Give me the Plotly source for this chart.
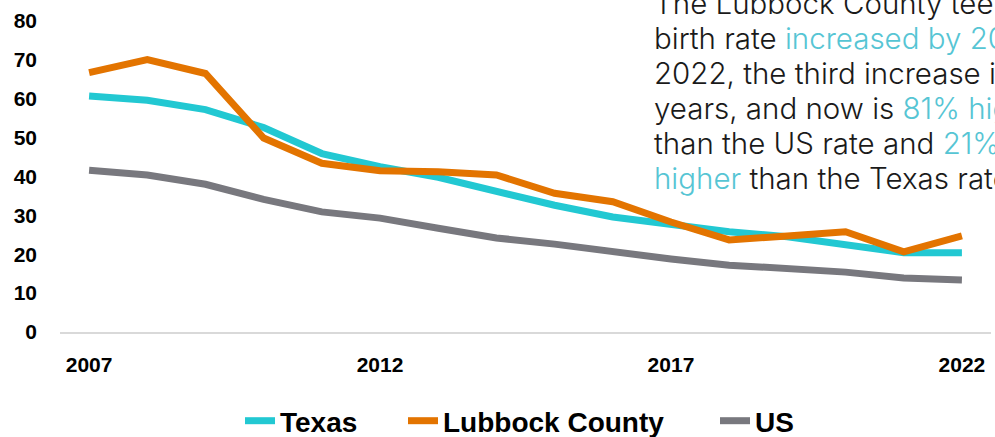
import plotly.graph_objects as go

years = list(range(2007, 2023))
texas = [60.7, 59.6, 57.2, 52.6, 45.9, 42.5, 39.8, 36.1, 32.6, 29.6, 27.5, 25.8, 24.5, 22.4, 20.4, 20.4]
lubbock = [66.7, 70.1, 66.5, 49.9, 43.4, 41.5, 41.2, 40.4, 35.7, 33.5, 28.3, 23.7, 24.7, 25.8, 20.6, 24.7]
us = [41.6, 40.4, 38.0, 34.1, 30.9, 29.3, 26.7, 24.2, 22.6, 20.6, 18.8, 17.2, 16.4, 15.4, 13.9, 13.4]
x_ticks = [2007, 2012, 2017, 2022]
y_ticks = [0, 10, 20, 30, 40, 50, 60, 70, 80]

TEAL = "#22C8D2"
ORANGE = "#E37400"
GRAY = "#78787E"
HIL = "#56C5D4"

fig = go.Figure()
fig.add_trace(go.Scatter(x=years, y=texas, name="Texas", mode="lines",
                         line=dict(color=TEAL, width=7), legend="legend"))
fig.add_trace(go.Scatter(x=years, y=lubbock, name="Lubbock County", mode="lines",
                         line=dict(color=ORANGE, width=7), legend="legend2"))
fig.add_trace(go.Scatter(x=years, y=us, name="US", mode="lines",
                         line=dict(color=GRAY, width=7), legend="legend3"))

note_lines = [
    "The Lubbock County teen",
    f"birth rate <span style='color:{HIL}'>increased by 20% in</span>",
    "2022, the third increase in",
    f"years, and now is <span style='color:{HIL}'>81% higher</span>",
    f"than the US rate and <span style='color:{HIL}'>21%</span>",
    f"<span style='color:{HIL}'>higher</span> than the Texas rate.",
]

# plot area: y pixel 21 (top) .. 332 (bottom); x pixel 60 .. 991
for i, line in enumerate(note_lines):
    py = 3 + 35 * i
    fig.add_annotation(text=line, xref="paper", yref="paper",
                       x=(652 - 60) / 931, y=(332 - py) / 311,
                       xanchor="left", yanchor="middle", align="left", showarrow=False,
                       font=dict(family="Inter", size=29.5, color="#1a1a1a", weight=300))

legend_font = dict(family="Liberation Sans", size=28, color="#000000", weight="bold")


def leg(text_x):
    return dict(orientation="h", xref="container", yref="container",
                x=(text_x - 40) / 995, y=1 - 421 / 437, xanchor="left", yanchor="middle",
                font=legend_font, itemwidth=30, bgcolor="rgba(0,0,0,0)")


fig.update_layout(
    width=995, height=437,
    margin=dict(l=60, r=4, t=21, b=105),
    paper_bgcolor="white", plot_bgcolor="white",
    showlegend=True,
    legend=leg(280), legend2=leg(443), legend3=leg(755),
    xaxis=dict(range=[2006.5, 2022.5], tickvals=x_ticks, ticktext=[str(v) for v in x_ticks],
               showgrid=False, zeroline=False, showline=True, linecolor="#D9D9D9", linewidth=2,
               ticks="", ticklabelstandoff=13,
               tickfont=dict(family="Liberation Sans", size=21, color="#000000", weight="bold")),
    yaxis=dict(range=[0, 80], tickvals=y_ticks, showgrid=False, zeroline=False, showline=False,
               ticks="", ticklabelstandoff=22,
               tickfont=dict(family="Liberation Sans", size=21, color="#000000", weight="bold")),
)

fig.write_html("out.html", config={"displayModeBar": False},
               post_script="document.body.style.margin='0';")
